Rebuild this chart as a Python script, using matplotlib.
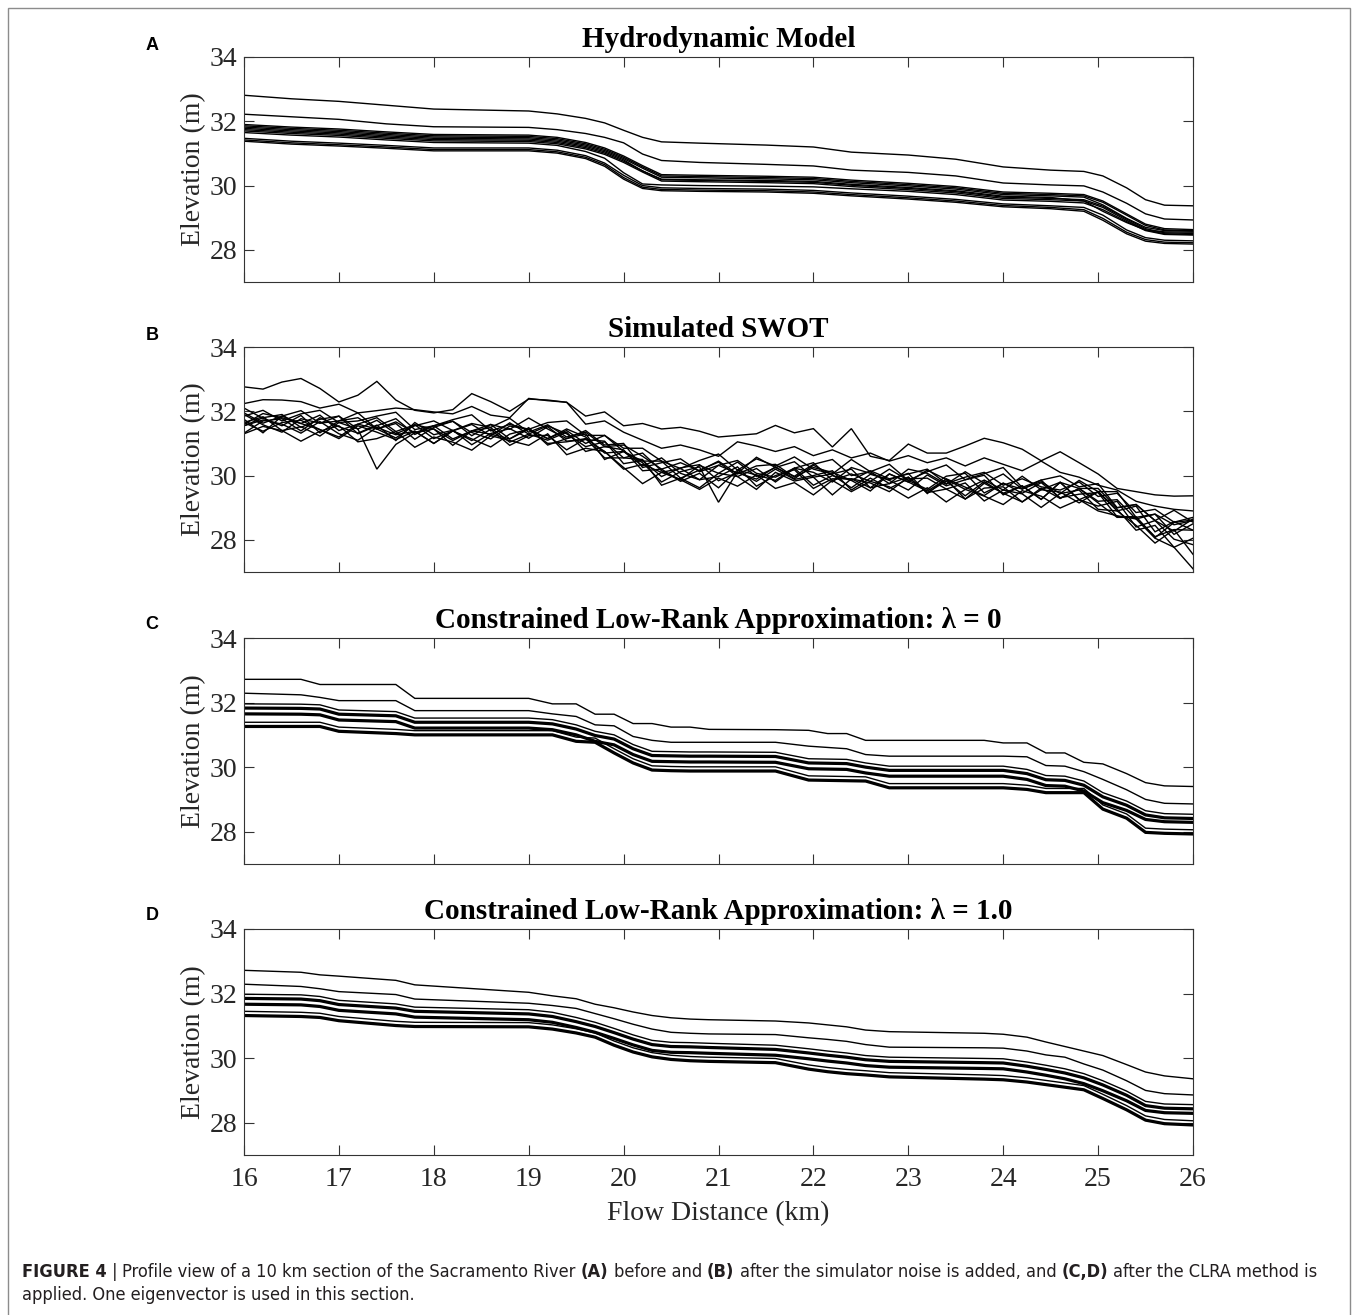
"""
Profile view of the Sacramento River section: hydrodynamic model, simulated SWOT,
and constrained low-rank approximations (lambda = 0 and 1.0).
"""

import os
import numpy as np
import matplotlib
matplotlib.use("Agg")
import matplotlib.pyplot as plt
from matplotlib.patches import Rectangle
from matplotlib import font_manager
from matplotlib.font_manager import FontProperties

W, H = 1358, 1315
SERIF = ["Liberation Serif", "DejaVu Serif"]
AX_COLOR = "#333333"

# ---------------- data (elevation in m vs flow distance in km) ----------------

# (A) hydrodynamic model
x_hydro = [16.0, 16.5, 17.0, 17.5, 18.0, 18.5, 19.0, 19.3, 19.6, 19.8, 20.0, 20.2, 20.4,
           20.8, 21.5, 22.0, 22.4, 23.0, 23.5, 24.0, 24.5, 24.85, 25.05, 25.3, 25.5, 25.7, 26.0]
hydro_elev = [
    [32.81, 32.70, 32.62, 32.50, 32.38, 32.35, 32.32, 32.23, 32.09, 31.95, 31.72, 31.50, 31.36,
     31.32, 31.26, 31.20, 31.04, 30.95, 30.82, 30.58, 30.48, 30.44, 30.30, 29.93, 29.56, 29.39, 29.37],
    [32.22, 32.14, 32.06, 31.92, 31.83, 31.82, 31.81, 31.74, 31.62, 31.50, 31.33, 30.98, 30.78,
     30.72, 30.66, 30.61, 30.48, 30.41, 30.30, 30.08, 30.02, 29.99, 29.80, 29.45, 29.12, 28.96, 28.93],
    [31.90, 31.82, 31.76, 31.67, 31.59, 31.58, 31.57, 31.50, 31.34, 31.17, 30.92, 30.62, 30.34,
     30.32, 30.29, 30.26, 30.17, 30.07, 29.97, 29.80, 29.76, 29.72, 29.52, 29.12, 28.80, 28.66, 28.63],
    [31.86, 31.78, 31.72, 31.63, 31.55, 31.54, 31.53, 31.46, 31.30, 31.13, 30.88, 30.58, 30.30,
     30.28, 30.25, 30.22, 30.13, 30.03, 29.93, 29.76, 29.72, 29.68, 29.48, 29.08, 28.76, 28.62, 28.60],
    [31.82, 31.74, 31.68, 31.59, 31.51, 31.50, 31.49, 31.42, 31.26, 31.09, 30.84, 30.54, 30.26,
     30.24, 30.21, 30.18, 30.09, 29.99, 29.89, 29.72, 29.68, 29.64, 29.40, 28.98, 28.70, 28.60, 28.58],
    [31.78, 31.70, 31.64, 31.55, 31.47, 31.46, 31.45, 31.38, 31.22, 31.05, 30.80, 30.45, 30.20,
     30.18, 30.16, 30.13, 30.04, 29.94, 29.84, 29.67, 29.63, 29.52, 29.20, 28.85, 28.62, 28.56, 28.55],
    [31.74, 31.66, 31.60, 31.51, 31.43, 31.42, 31.41, 31.34, 31.18, 31.01, 30.76, 30.46, 30.18,
     30.16, 30.13, 30.10, 30.01, 29.91, 29.81, 29.64, 29.60, 29.56, 29.36, 28.96, 28.66, 28.53, 28.51],
    [31.70, 31.62, 31.56, 31.47, 31.39, 31.38, 31.37, 31.30, 31.14, 30.97, 30.72, 30.42, 30.14,
     30.12, 30.09, 30.06, 29.97, 29.87, 29.77, 29.60, 29.56, 29.52, 29.32, 28.92, 28.62, 28.50, 28.48],
    [31.65, 31.57, 31.51, 31.42, 31.34, 31.33, 31.32, 31.25, 31.06, 30.85, 30.40, 30.05, 30.02,
     30.00, 29.98, 29.96, 29.90, 29.82, 29.72, 29.55, 29.51, 29.46, 29.25, 28.88, 28.60, 28.48, 28.46],
    [31.47, 31.38, 31.32, 31.25, 31.17, 31.17, 31.17, 31.10, 30.93, 30.70, 30.32, 30.00, 29.93,
     29.91, 29.89, 29.85, 29.77, 29.67, 29.57, 29.43, 29.37, 29.32, 29.08, 28.62, 28.38, 28.30, 28.28],
    [31.42, 31.33, 31.27, 31.20, 31.12, 31.12, 31.12, 31.05, 30.88, 30.65, 30.25, 29.95, 29.88,
     29.86, 29.84, 29.80, 29.72, 29.62, 29.52, 29.38, 29.32, 29.25, 28.98, 28.55, 28.32, 28.24, 28.22],
    [31.38, 31.29, 31.23, 31.16, 31.08, 31.08, 31.08, 31.01, 30.84, 30.60, 30.20, 29.91, 29.84,
     29.82, 29.80, 29.76, 29.68, 29.58, 29.48, 29.34, 29.28, 29.20, 28.92, 28.50, 28.27, 28.20, 28.18],
]

# (B) simulated SWOT
x_swot = [16.0, 16.2, 16.4, 16.6, 16.8, 17.0, 17.2, 17.4, 17.6, 17.8, 18.0, 18.2, 18.4, 18.6, 18.8,
          19.0, 19.2, 19.4, 19.6, 19.8, 20.0, 20.2, 20.4, 20.6, 20.8, 21.0, 21.2, 21.4, 21.6, 21.8,
          22.0, 22.2, 22.4, 22.6, 22.8, 23.0, 23.2, 23.4, 23.6, 23.8, 24.0, 24.2, 24.4, 24.6, 24.8,
          25.0, 25.2, 25.4, 25.6, 25.8, 26.0]
swot_elev = [
    [32.76, 32.69, 32.91, 33.02, 32.71, 32.29, 32.50, 32.93, 32.35, 32.03, 31.95, 32.05, 32.55,
     32.30, 32.00, 32.38, 32.35, 32.28, 31.85, 31.98, 31.55, 31.62, 31.45, 31.50, 31.38, 31.20,
     31.25, 31.30, 31.56, 31.33, 31.46, 30.89, 31.46, 30.60, 30.47, 30.98, 30.70, 30.70, 30.92,
     31.16, 31.02, 30.82, 30.46, 30.74, 30.40, 30.05, 29.60, 29.50, 29.40, 29.36, 29.37],
    [32.24, 32.36, 32.35, 32.30, 32.10, 32.22, 31.95, 32.02, 32.10, 32.05, 31.98, 31.92, 32.15,
     31.88, 31.80, 32.40, 32.33, 32.28, 31.60, 31.70, 31.35, 31.10, 30.85, 30.95, 30.80, 30.60,
     31.05, 30.92, 30.75, 30.90, 30.62, 30.80, 30.55, 30.70, 30.45, 30.62, 30.40, 30.55, 30.30,
     30.55, 30.35, 30.15, 30.45, 30.10, 29.95, 29.70, 29.55, 29.20, 29.05, 28.95, 28.90],
    [31.95, 31.63, 31.85, 32.02, 31.63, 31.70, 31.95, 31.45, 31.67, 31.33, 31.55, 31.69, 31.24,
     31.59, 31.44, 31.79, 31.45, 31.15, 31.40, 30.95, 31.00, 30.25, 30.40, 30.52, 30.12, 30.32,
     30.07, 30.57, 30.25, 29.98, 30.35, 30.50, 30.00, 30.12, 29.75, 30.20, 30.07, 29.73, 30.12,
     29.76, 30.05, 29.58, 29.81, 29.44, 29.85, 29.50, 29.50, 28.70, 28.80, 28.47, 28.60],
    [31.60, 31.93, 31.80, 31.62, 31.88, 31.40, 31.60, 31.80, 31.37, 31.58, 31.15, 31.39, 31.59,
     31.24, 31.64, 31.29, 31.55, 31.30, 30.90, 31.05, 30.55, 30.70, 30.15, 29.87, 30.32, 30.07,
     30.42, 29.97, 30.25, 30.43, 29.95, 30.05, 30.20, 29.62, 30.05, 29.80, 30.17, 29.88, 29.57,
     29.86, 29.55, 29.98, 29.56, 29.79, 29.25, 29.50, 28.90, 29.05, 28.25, 28.57, 28.30],
    [31.90, 31.58, 31.35, 31.77, 31.63, 31.85, 31.30, 31.55, 31.77, 31.28, 31.55, 31.14, 31.39,
     31.59, 31.14, 31.44, 31.15, 31.45, 31.20, 30.70, 30.75, 30.45, 30.45, 29.92, 30.17, 30.42,
     29.97, 30.22, 29.80, 30.23, 30.10, 29.80, 30.25, 30.07, 29.85, 29.55, 30.02, 29.68, 29.87,
     30.01, 29.40, 29.68, 29.26, 29.79, 29.60, 29.20, 29.25, 28.65, 28.80, 28.17, 28.50],
    [31.32, 31.70, 31.77, 31.39, 31.80, 31.52, 31.32, 31.57, 31.09, 31.65, 31.27, 31.41, 30.96,
     31.31, 31.46, 31.16, 31.52, 31.07, 31.12, 31.07, 30.37, 30.47, 29.97, 30.24, 30.34, 29.84,
     30.09, 29.89, 30.27, 29.90, 30.32, 30.02, 29.62, 30.04, 29.87, 30.07, 29.44, 29.90, 29.64,
     29.38, 29.77, 29.45, 29.78, 29.31, 29.42, 29.47, 28.72, 28.72, 28.07, 28.54, 28.62],
    [31.65, 31.83, 31.40, 31.52, 31.23, 31.65, 31.45, 30.20, 30.97, 31.33, 31.45, 31.09, 31.39,
     31.49, 31.04, 31.29, 31.10, 31.35, 30.75, 30.90, 30.80, 30.15, 30.20, 29.82, 30.07, 29.62,
     30.17, 30.02, 29.85, 30.23, 29.70, 30.00, 29.85, 29.52, 30.05, 29.80, 29.52, 29.88, 29.27,
     29.61, 29.65, 29.18, 29.56, 29.49, 29.15, 29.50, 28.95, 28.30, 28.45, 27.77, 28.05],
    [31.65, 31.38, 31.65, 31.72, 31.43, 31.15, 31.55, 31.35, 31.12, 31.38, 31.00, 31.39, 31.14,
     30.89, 31.29, 31.44, 31.00, 31.05, 31.15, 30.55, 30.55, 30.50, 29.70, 29.92, 29.62, 30.07,
     29.97, 29.57, 30.10, 29.83, 29.95, 29.40, 29.90, 29.77, 29.50, 29.95, 29.47, 29.58, 29.77,
     29.21, 29.55, 29.43, 29.01, 29.44, 29.55, 28.95, 28.90, 28.45, 27.90, 28.32, 27.55],
    [31.30, 31.53, 31.40, 31.07, 31.38, 31.55, 31.05, 31.15, 31.37, 30.88, 31.20, 31.04, 30.79,
     31.24, 31.09, 30.94, 31.30, 30.65, 30.85, 30.75, 30.25, 29.75, 30.10, 29.87, 29.57, 29.92,
     29.67, 30.02, 29.60, 29.78, 29.40, 29.85, 29.50, 29.82, 29.65, 29.30, 29.62, 29.18, 29.57,
     29.36, 29.10, 29.53, 29.36, 28.99, 29.25, 28.90, 28.75, 28.65, 28.05, 27.77, 27.10],
    [32.10, 31.78, 31.55, 31.87, 31.33, 31.70, 31.80, 31.45, 31.62, 31.13, 31.50, 31.69, 31.34,
     31.14, 31.54, 31.44, 31.15, 31.40, 31.00, 31.25, 30.75, 30.30, 30.55, 30.07, 29.87, 30.32,
     30.47, 30.07, 29.95, 30.23, 30.40, 29.85, 30.05, 29.82, 30.20, 29.85, 29.57, 29.98, 30.07,
     29.46, 29.75, 29.58, 29.86, 29.29, 29.60, 29.60, 29.00, 29.10, 28.60, 28.27, 28.65],
    [31.75, 31.33, 31.85, 31.62, 31.43, 31.20, 31.60, 31.45, 31.17, 31.58, 31.45, 30.94, 31.39,
     31.29, 31.14, 31.49, 30.95, 31.15, 31.30, 30.50, 30.75, 30.40, 29.80, 30.12, 30.27, 29.17,
     30.12, 29.82, 30.20, 29.88, 30.00, 30.15, 29.55, 29.92, 29.60, 29.90, 29.92, 29.58, 29.27,
     29.76, 29.45, 29.68, 29.26, 29.79, 29.25, 29.05, 29.20, 28.40, 28.60, 28.02, 27.85],
    [31.85, 32.03, 31.70, 31.92, 32.03, 31.65, 31.70, 31.85, 31.97, 31.43, 31.55, 31.74, 31.89,
     31.39, 31.59, 31.44, 31.65, 31.70, 31.25, 31.25, 30.85, 30.85, 30.45, 30.22, 30.47, 30.67,
     30.17, 30.52, 30.30, 30.58, 30.20, 30.05, 30.50, 30.12, 30.35, 29.85, 30.12, 30.33, 29.87,
     30.06, 30.25, 29.63, 29.86, 29.99, 29.65, 29.75, 29.00, 29.10, 28.60, 28.92, 28.55],
    [31.55, 31.73, 31.60, 31.32, 31.68, 31.30, 31.10, 31.50, 31.27, 31.38, 31.00, 31.39, 31.09,
     31.44, 30.94, 31.24, 31.25, 30.80, 31.15, 30.75, 30.20, 30.35, 30.10, 30.22, 29.87, 29.97,
     30.27, 29.67, 30.00, 30.18, 29.60, 29.90, 29.90, 29.62, 29.75, 29.95, 29.47, 29.83, 29.37,
     29.81, 29.45, 29.18, 29.61, 29.29, 29.60, 29.15, 28.70, 28.70, 28.10, 28.32, 28.30],
    [31.55, 31.80, 31.90, 31.50, 31.75, 31.85, 31.45, 31.72, 31.30, 31.55, 31.70, 31.40, 31.62,
     31.50, 31.78, 31.35, 31.58, 31.20, 31.35, 30.90, 30.95, 30.60, 30.20, 30.40, 30.15, 30.45,
     30.05, 30.30, 30.35, 29.95, 30.25, 30.10, 29.85, 30.15, 29.90, 30.05, 30.20, 29.75, 29.95,
     30.10, 29.70, 29.90, 29.65, 29.55, 29.80, 29.35, 29.45, 28.85, 28.95, 28.55, 28.70],
]

# (C) and (D) constrained low-rank approximation, same node positions
x_clra = [16.0, 16.6, 16.8, 17.0, 17.6, 17.8, 19.0, 19.25, 19.5, 19.7, 19.9, 20.1, 20.3, 20.5,
          20.7, 20.9, 21.6, 21.95, 22.15, 22.35, 22.55, 22.8, 23.8, 24.0, 24.25, 24.45, 24.65,
          24.85, 25.05, 25.3, 25.5, 25.7, 26.0]
clra0_elev = [
    [32.72, 32.72, 32.56, 32.56, 32.56, 32.13, 32.13, 31.96, 31.96, 31.64, 31.64, 31.35, 31.35,
     31.24, 31.24, 31.17, 31.16, 31.14, 31.04, 31.04, 30.83, 30.83, 30.83, 30.75, 30.75, 30.44,
     30.44, 30.15, 30.10, 29.80, 29.52, 29.42, 29.40],
    [32.29, 32.24, 32.16, 32.06, 32.06, 31.75, 31.75, 31.65, 31.57, 31.31, 31.28, 30.95, 30.83,
     30.77, 30.77, 30.77, 30.77, 30.65, 30.61, 30.57, 30.39, 30.34, 30.34, 30.34, 30.32, 30.05,
     30.03, 29.86, 29.62, 29.30, 29.00, 28.88, 28.86],
    [31.96, 31.95, 31.93, 31.77, 31.72, 31.52, 31.52, 31.47, 31.31, 31.11, 31.00, 30.70, 30.49,
     30.48, 30.47, 30.47, 30.46, 30.26, 30.25, 30.24, 30.13, 30.03, 30.03, 30.03, 29.93, 29.74,
     29.72, 29.57, 29.21, 28.95, 28.65, 28.56, 28.54],
    [31.83, 31.82, 31.80, 31.64, 31.59, 31.39, 31.39, 31.34, 31.18, 30.98, 30.87, 30.57, 30.36,
     30.35, 30.34, 30.34, 30.33, 30.13, 30.12, 30.11, 30.00, 29.90, 29.90, 29.90, 29.80, 29.61,
     29.59, 29.44, 29.08, 28.82, 28.52, 28.43, 28.41],
    [31.65, 31.64, 31.62, 31.46, 31.41, 31.21, 31.21, 31.16, 31.00, 30.80, 30.69, 30.39, 30.18,
     30.17, 30.16, 30.16, 30.15, 29.95, 29.94, 29.93, 29.82, 29.72, 29.72, 29.72, 29.62, 29.43,
     29.41, 29.26, 28.90, 28.66, 28.38, 28.31, 28.29],
    [31.39, 31.39, 31.39, 31.24, 31.17, 31.13, 31.13, 31.13, 30.93, 30.90, 30.57, 30.26, 30.04,
     30.02, 30.01, 30.01, 30.01, 29.73, 29.72, 29.71, 29.70, 29.49, 29.49, 29.49, 29.44, 29.34,
     29.34, 29.34, 28.83, 28.55, 28.11, 28.08, 28.06],
    [31.26, 31.26, 31.26, 31.11, 31.04, 31.00, 31.00, 31.00, 30.80, 30.77, 30.44, 30.13, 29.91,
     29.89, 29.88, 29.88, 29.88, 29.60, 29.59, 29.58, 29.57, 29.36, 29.36, 29.36, 29.31, 29.21,
     29.21, 29.21, 28.70, 28.42, 27.98, 27.95, 27.93],
]
clra1_elev = [
    [32.72, 32.66, 32.58, 32.54, 32.41, 32.27, 32.04, 31.93, 31.84, 31.67, 31.56, 31.43, 31.32,
     31.25, 31.21, 31.19, 31.15, 31.09, 31.03, 30.97, 30.87, 30.82, 30.77, 30.74, 30.65, 30.50,
     30.36, 30.22, 30.08, 29.80, 29.57, 29.45, 29.36],
    [32.29, 32.22, 32.15, 32.06, 31.97, 31.83, 31.70, 31.63, 31.54, 31.38, 31.22, 31.05, 30.90,
     30.80, 30.77, 30.75, 30.73, 30.63, 30.58, 30.52, 30.42, 30.34, 30.32, 30.31, 30.22, 30.10,
     30.03, 29.82, 29.63, 29.30, 29.00, 28.90, 28.86],
    [31.98, 31.96, 31.91, 31.79, 31.68, 31.58, 31.50, 31.42, 31.26, 31.11, 30.92, 30.72, 30.55,
     30.49, 30.48, 30.46, 30.40, 30.29, 30.22, 30.16, 30.08, 30.03, 29.99, 29.98, 29.88, 29.78,
     29.67, 29.52, 29.30, 28.98, 28.66, 28.58, 28.56],
    [31.85, 31.83, 31.78, 31.66, 31.55, 31.45, 31.37, 31.29, 31.13, 30.98, 30.79, 30.59, 30.42,
     30.36, 30.35, 30.33, 30.27, 30.16, 30.09, 30.03, 29.95, 29.90, 29.86, 29.85, 29.75, 29.65,
     29.54, 29.39, 29.17, 28.85, 28.53, 28.45, 28.43],
    [31.67, 31.65, 31.60, 31.48, 31.37, 31.27, 31.19, 31.11, 30.95, 30.80, 30.61, 30.41, 30.24,
     30.18, 30.17, 30.15, 30.09, 29.98, 29.91, 29.85, 29.77, 29.72, 29.68, 29.67, 29.57, 29.47,
     29.36, 29.21, 28.99, 28.68, 28.38, 28.31, 28.29],
    [31.45, 31.42, 31.39, 31.29, 31.14, 31.11, 31.10, 31.03, 30.91, 30.78, 30.53, 30.32, 30.17,
     30.09, 30.05, 30.03, 29.99, 29.79, 29.71, 29.65, 29.61, 29.55, 29.48, 29.46, 29.39, 29.31,
     29.23, 29.15, 28.88, 28.53, 28.21, 28.10, 28.06],
    [31.32, 31.29, 31.26, 31.16, 31.01, 30.98, 30.97, 30.90, 30.78, 30.65, 30.40, 30.19, 30.04,
     29.96, 29.92, 29.90, 29.86, 29.66, 29.58, 29.52, 29.48, 29.42, 29.35, 29.33, 29.26, 29.18,
     29.10, 29.02, 28.75, 28.40, 28.08, 27.97, 27.93],
]
# clustered profiles in (C)/(D) are drawn as heavier strokes
clra_widths = [1.0, 1.0, 1.0, 2.3, 2.3, 1.0, 2.3]

titles = ["Hydrodynamic Model", "Simulated SWOT",
          "Constrained Low-Rank Approximation: \u03bb = 0",
          "Constrained Low-Rank Approximation: \u03bb = 1.0"]
letters = ["A", "B", "C", "D"]
x_ticks = [16, 17, 18, 19, 20, 21, 22, 23, 24, 25, 26]
y_ticks = [28, 30, 32, 34]

panels = [
    (x_hydro, hydro_elev, [1.0] * len(hydro_elev)),
    (x_swot, swot_elev, [1.0] * len(swot_elev)),
    (x_clra, clra0_elev, clra_widths),
    (x_clra, clra1_elev, clra_widths),
]

# axes boxes in pixels: top, bottom
ax_left, ax_right = 244, 1193
ax_rows = [(57, 282), (347, 572), (638, 864), (929, 1155)]
letter_y = [45, 335, 625, 916]

fig = plt.figure(figsize=(W / 100, H / 100), dpi=100)

for i, (xs, lines, widths) in enumerate(panels):
    top, bot = ax_rows[i]
    ax = fig.add_axes([ax_left / W, 1 - bot / H, (ax_right - ax_left) / W, (bot - top) / H])
    for ys, lw in zip(lines, widths):
        ax.plot(xs, ys, color="black", lw=lw, solid_joinstyle="miter")
    ax.set_xlim(16, 26)
    ax.set_ylim(27, 34)
    ax.set_xticks(x_ticks)
    ax.set_yticks(y_ticks)
    ax.tick_params(direction="in", top=True, right=True, length=7, width=0.8,
                   color=AX_COLOR, labelcolor="#262626", labelsize=20)
    ax.tick_params(axis="x", pad=9)
    ax.tick_params(axis="y", pad=5)
    for lab in ax.get_xticklabels() + ax.get_yticklabels():
        lab.set_family(SERIF)
    for sp in ax.spines.values():
        sp.set_color(AX_COLOR)
        sp.set_linewidth(0.8)
    if i < 3:
        ax.set_xticklabels([])
    else:
        ax.set_xlabel("Flow Distance (km)", family=SERIF, fontsize=20, color="#262626", labelpad=6)
    ax.set_ylabel("Elevation (m)", family=SERIF, fontsize=20, color="#262626")
    ax.yaxis.set_label_coords(-0.040, 0.5)
    ax.set_title(titles[i], family=SERIF, fontsize=21, fontweight="bold", pad=7)
    fig.text(152 / W, 1 - letter_y[i] / H, letters[i], family=["Liberation Sans", "DejaVu Sans"],
             fontweight="bold", fontsize=13, ha="center", va="center")

# outer frame of the figure panel
fig.add_artist(Rectangle((8 / W, -0.01), (1350 - 8) / W, 1 - 8 / H + 0.01,
                         transform=fig.transFigure, fill=False, edgecolor="#8c8c8c", lw=1.0))


# caption font: prefer a narrow sans face if one is installed
def pick_font(names):
    files = {os.path.basename(f.fname): f.fname for f in font_manager.fontManager.ttflist}
    for n in names:
        if n in files:
            return files[n]
    return None


cap_regular = pick_font(["LiberationSansNarrow-Regular.ttf", "DejaVuSansCondensed.ttf",
                         "LiberationSans-Regular.ttf", "DejaVuSans.ttf"])
cap_bold = pick_font(["LiberationSansNarrow-Bold.ttf", "DejaVuSansCondensed-Bold.ttf",
                      "LiberationSans-Bold.ttf", "DejaVuSans-Bold.ttf"])


def cap_props(weight, size):
    path = cap_bold if weight == "bold" else cap_regular
    if path:
        return FontProperties(fname=path, size=size)
    return FontProperties(family="sans-serif", weight=weight, size=size)


renderer = fig.canvas.get_renderer()
cap1 = [("FIGURE 4", "bold"), ("|", "normal"),
        ("Profile view of a 10 km section of the Sacramento River", "normal"), ("(A)", "bold"),
        ("before and", "normal"), ("(B)", "bold"),
        ("after the simulator noise is added, and", "normal"), ("(C,D)", "bold"),
        ("after the CLRA method is", "normal")]
cap2 = [("applied. One eigenvector is used in this section.", "normal")]


def text_width(s, size, weight):
    t = fig.text(0, 0, s, fontproperties=cap_props(weight, size))
    w = t.get_window_extent(renderer=renderer).width
    t.remove()
    return w


def line_width(runs, size):
    sp = text_width("a a", size, "normal") - text_width("aa", size, "normal")
    return sum(text_width(s, size, w) for s, w in runs) + sp * (len(runs) - 1)


def draw_runs(runs, x_px, y_px, size):
    sp = text_width("a a", size, "normal") - text_width("aa", size, "normal")
    x = x_px
    for s, weight in runs:
        t = fig.text(x / W, 1 - y_px / H, s, fontproperties=cap_props(weight, size),
                     ha="left", va="baseline", color="#231f20")
        x += t.get_window_extent(renderer=renderer).width + sp


cap_size = 10 * (1303 / line_width(cap1, 10))
draw_runs(cap1, 22, 1277, cap_size)
draw_runs(cap2, 22, 1300, cap_size)

fig.savefig("out.png", dpi=100, facecolor="white")
